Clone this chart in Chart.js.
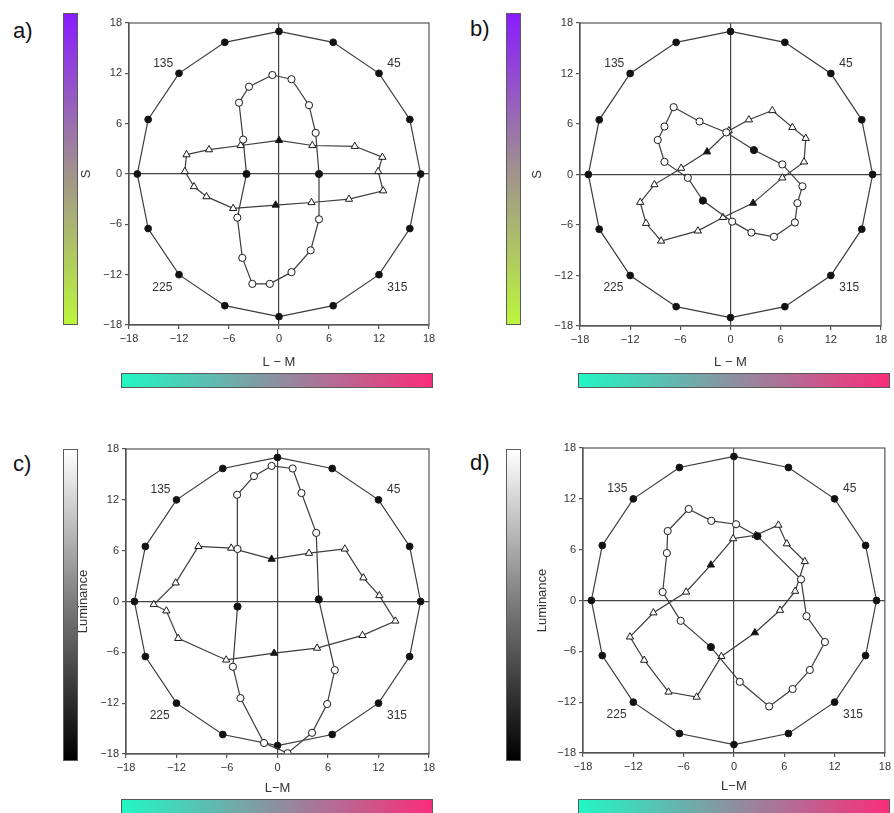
<!DOCTYPE html>
<html lang="it">
<head>
    <meta charset="UTF-8">
    <title>Contorni di soglia</title>
    <script src="https://cdn.jsdelivr.net/npm/chart.js"></script>
    <style>
        body {
            margin: 0;
            background-color: #fff;
            font-family: 'Liberation Sans', Arial, sans-serif;
        }
        #pagina {
            position: relative;
            width: 894px;
            height: 813px;
            overflow: hidden;
        }
        canvas {
            position: absolute;
        }
        .etichetta {
            position: absolute;
            font-size: 22px;
            line-height: 26px;
            color: #111;
        }
        .barra {
            position: absolute;
            box-sizing: border-box;
            border: 1.5px solid #5a5a5a;
            z-index: 2;
        }
        .verticale { width: 15px; height: 312px; }
        .orizzontale {
            width: 312px; height: 15px;
            background: linear-gradient(to right, #22f7c4, #8c8fa0 50%, #fa2d7b);
        }
        .cromatica { background: linear-gradient(to bottom, #8a1cff, #a0908f 50%, #bcf53c); }
        .luminanza { background: linear-gradient(to bottom, #ffffff, #7a7a7a 50%, #000000); }
    </style>
</head>
<body>
<div id="pagina">
    <div class="etichetta" style="left:13px; top:18px">a)</div>
    <div class="etichetta" style="left:470px; top:16px">b)</div>
    <div class="etichetta" style="left:13px; top:451px">c)</div>
    <div class="etichetta" style="left:470px; top:450px">d)</div>

    <div class="barra verticale cromatica" style="left:63px; top:13px"></div>
    <div class="barra verticale cromatica" style="left:506px; top:13px"></div>
    <div class="barra verticale luminanza" style="left:63px; top:449px"></div>
    <div class="barra verticale luminanza" style="left:506px; top:449px"></div>

    <div class="barra orizzontale" style="left:121px; top:373px"></div>
    <div class="barra orizzontale" style="left:578px; top:373px"></div>
    <div class="barra orizzontale" style="left:121px; top:799px"></div>
    <div class="barra orizzontale" style="left:578px; top:799px"></div>

    <canvas id="graficoA" width="370" height="374" style="left:75px; top:0px"></canvas>
    <canvas id="graficoB" width="368" height="374" style="left:526px; top:0px"></canvas>
    <canvas id="graficoC" width="370" height="374" style="left:72px; top:426px"></canvas>
    <canvas id="graficoD" width="363" height="373" style="left:531px; top:425px"></canvas>
</div>

<script>
    // anello esterno (punti pieni), uguale nei quattro pannelli
    const anelloX = [17, 15.7, 12, 6.5, 0, -6.5, -12, -15.7, -17, -15.7, -12, -6.5, 0, 6.5, 12, 15.7];
    const anelloY = [0, 6.5, 12, 15.7, 17, 15.7, 12, 6.5, 0, -6.5, -12, -15.7, -17, -15.7, -12, -6.5];

    // etichette degli angoli
    const angoliTesto = ['135', '45', '225', '315'];
    const angoliX = [-13.9, 13.8, -14, 14.2];
    const angoliY = [13.2, 13.2, -13.5, -13.5];

    const valoriTick = [-18, -12, -6, 0, 6, 12, 18];

    // pannello a
    const cerchiAX = [-0.8, 1.5, 3.6, 4.4, 4.8, 4.8, 3.8, 1.5, -1.1, -3.2, -4.4, -5.0, -3.9, -4.3, -4.8, -3.6];
    const cerchiAY = [11.8, 11.3, 8.2, 4.9, 0, -5.4, -9.1, -11.7, -13.1, -13.1, -10.0, -5.2, 0, 4.1, 8.5, 10.4];
    const cerchiPieniA = [4, 12];
    const triangoliAX = [-11.1, -8.4, -4.6, 0, 4.0, 9.1, 12.4, 11.9, 12.5, 8.4, 3.9, -0.4, -5.5, -8.7, -10.2, -11.3];
    const triangoliAY = [2.3, 2.9, 3.4, 4.0, 3.4, 3.3, 2.0, 0.3, -2.0, -3.0, -3.4, -3.7, -4.1, -2.7, -1.5, 0.3];
    const triangoliPieniA = [3, 11];

    // pannello b
    const cerchiBX = [-6.8, -3.7, -0.5, 2.8, 6.2, 8.6, 8.0, 7.7, 5.2, 2.5, 0.2, -3.3, -5.1, -7.9, -8.7, -7.9];
    const cerchiBY = [8.0, 6.3, 5.0, 2.9, 1.2, -1.4, -3.4, -5.7, -7.4, -6.9, -5.6, -3.1, -0.4, 1.5, 4.1, 5.7];
    const cerchiPieniB = [3, 11];
    const triangoliBX = [5.0, 2.2, -0.2, -2.8, -5.9, -9.1, -10.8, -10.1, -8.3, -3.9, -0.9, 2.7, 6.2, 8.8, 9.0, 7.4];
    const triangoliBY = [7.6, 6.5, 5.2, 2.7, 0.75, -1.2, -3.3, -5.8, -7.9, -6.7, -5.1, -3.4, -0.4, 1.5, 4.3, 5.6];
    const triangoliPieniB = [3, 11];

    // pannello c
    const cerchiCX = [-0.7, 1.8, 2.85, 4.6, 4.9, 6.8, 5.9, 4.1, 1.2, -1.6, -4.4, -5.3, -4.75, -4.75, -4.8, -2.8];
    const cerchiCY = [16.0, 15.7, 12.8, 8.1, 0.25, -8.1, -12.1, -15.5, -17.9, -16.7, -11.4, -7.7, -0.6, 6.2, 12.6, 14.8];
    const cerchiPieniC = [4, 12];
    const triangoliCX = [-9.4, -5.5, -0.7, 3.75, 8.0, 10.2, 12.1, 14.0, 10.1, 4.7, -0.4, -6.1, -11.8, -13.2, -14.7, -12.1];
    const triangoliCY = [6.5, 6.3, 5.0, 5.7, 6.2, 2.8, 0.7, -2.3, -4.0, -5.5, -6.1, -6.9, -4.35, -1.1, -0.35, 2.2];
    const triangoliPieniC = [2, 10];

    // pannello d
    const cerchiDX = [-5.4, -2.7, 0.25, 2.8, 8.0, 8.65, 10.85, 9.05, 7.0, 4.2, 0.7, -2.75, -6.35, -8.5, -8.0, -7.9];
    const cerchiDY = [10.8, 9.4, 9.0, 7.6, 2.5, -1.85, -4.9, -8.2, -10.45, -12.5, -9.6, -5.5, -2.4, 1.0, 5.6, 8.2];
    const cerchiPieniD = [3, 11];
    const triangoliDX = [5.3, 6.3, 8.45, 7.3, 5.5, 2.5, -1.5, -4.45, -7.8, -10.7, -12.4, -9.6, -5.7, -2.75, -0.1, 2.6];
    const triangoliDY = [8.9, 6.7, 4.6, 1.1, -1.15, -3.8, -6.6, -11.4, -10.8, -7.05, -4.3, -1.45, 1.0, 4.2, 7.3, 7.7];
    const triangoliPieniD = [5, 13];

    const FONT = "'Liberation Sans', Arial, sans-serif";
    const LINEA = '#3c3c3c';

    // dataset chiuso: il primo punto viene ripetuto in fondo senza marcatore
    function creaAnello(xs, ys, pieni, stile, raggio) {
        const punti = xs.map((x, i) => ({ x: x, y: ys[i] }));
        punti.push({ x: xs[0], y: ys[0] });
        const sfondo = punti.map((_, i) => (pieni === 'tutti' || pieni.includes(i)) ? '#111' : '#fff');
        const raggi = punti.map((_, i) => i === punti.length - 1 ? 0 : raggio);
        return {
            data: punti,
            showLine: true,
            borderColor: LINEA,
            borderWidth: 1.2,
            pointStyle: stile,
            pointRadius: raggi,
            pointBackgroundColor: sfondo,
            pointBorderColor: '#1a1a1a',
            pointBorderWidth: 1,
            tension: 0
        };
    }

    // cornice e testi degli angoli
    const pluginCornice = {
        id: 'cornice',
        afterDraw(chart) {
            const { ctx, chartArea, scales } = chart;
            ctx.save();
            ctx.strokeStyle = '#555';
            ctx.lineWidth = 1.2;
            ctx.strokeRect(chartArea.left, chartArea.top, chartArea.width, chartArea.height);
            ctx.fillStyle = '#333';
            ctx.font = '12px ' + FONT;
            ctx.textAlign = 'center';
            ctx.textBaseline = 'middle';
            angoliTesto.forEach((t, i) => {
                ctx.fillText(t, scales.x.getPixelForValue(angoliX[i]), scales.y.getPixelForValue(angoliY[i]));
            });
            ctx.restore();
        }
    };

    function creaGrafico(id, cfg) {
        const ctx = document.getElementById(id).getContext('2d');
        const assi = (titolo, misura, lato) => ({
            type: 'linear',
            min: -18,
            max: 18,
            afterBuildTicks: scala => { scala.ticks = valoriTick.map(v => ({ value: v })); },
            afterFit: scala => { scala[lato] = misura; },
            grid: {
                color: c => (c.tick && c.tick.value === 0) ? '#444' : 'transparent',
                lineWidth: 1.2,
                drawTicks: true,
                tickLength: 4,
                tickColor: '#555'
            },
            border: { display: true, color: '#555', width: 1.2 },
            ticks: {
                color: '#333',
                padding: 3,
                maxRotation: 0,
                font: { family: FONT, size: 11 },
                callback: v => String(v).replace('-', '\u2212')
            },
            title: {
                display: true,
                text: titolo,
                color: '#333',
                padding: 4,
                font: { family: FONT, size: 13 }
            }
        });

        return new Chart(ctx, {
            type: 'scatter',
            data: {
                datasets: [
                    creaAnello(cfg.cx, cfg.cy, cfg.cp, 'circle', 3.6),
                    creaAnello(cfg.tx, cfg.ty, cfg.tp, 'triangle', 4.2),
                    creaAnello(anelloX, anelloY, 'tutti', 'circle', 3.4)
                ]
            },
            options: {
                responsive: false,
                animation: false,
                layout: { padding: { top: 23, right: cfg.destra, bottom: 0, left: 0 } },
                plugins: { legend: { display: false }, tooltip: { enabled: false } },
                scales: {
                    x: assi(cfg.titoloX, cfg.altezzaX, 'height'),
                    y: assi(cfg.titoloY, cfg.larghezzaY, 'width')
                }
            },
            plugins: [pluginCornice]
        });
    }

    creaGrafico('graficoA', {
        cx: cerchiAX, cy: cerchiAY, cp: cerchiPieniA,
        tx: triangoliAX, ty: triangoliAY, tp: triangoliPieniA,
        titoloX: 'L \u2212 M', titoloY: 'S', altezzaX: 49, larghezzaY: 54, destra: 16
    });
    creaGrafico('graficoB', {
        cx: cerchiBX, cy: cerchiBY, cp: cerchiPieniB,
        tx: triangoliBX, ty: triangoliBY, tp: triangoliPieniB,
        titoloX: 'L \u2212 M', titoloY: 'S', altezzaX: 48, larghezzaY: 54, destra: 13
    });
    creaGrafico('graficoC', {
        cx: cerchiCX, cy: cerchiCY, cp: cerchiPieniC,
        tx: triangoliCX, ty: triangoliCY, tp: triangoliPieniC,
        titoloX: 'L\u2212M', titoloY: 'Luminance', altezzaX: 46, larghezzaY: 54, destra: 13
    });
    creaGrafico('graficoD', {
        cx: cerchiDX, cy: cerchiDY, cp: cerchiPieniD,
        tx: triangoliDX, ty: triangoliDY, tp: triangoliPieniD,
        titoloX: 'L\u2212M', titoloY: 'Luminance', altezzaX: 45, larghezzaY: 52, destra: 9
    });
</script>
</body>
</html>
